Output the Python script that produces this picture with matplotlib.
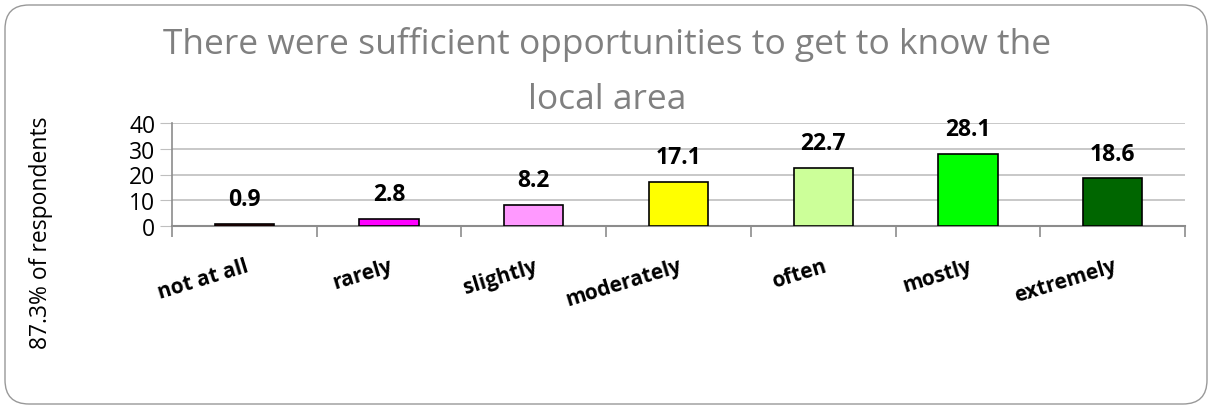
import matplotlib
matplotlib.use("Agg")
import matplotlib.pyplot as plt
from matplotlib.patches import FancyBboxPatch

categories = ["not at all", "rarely", "slightly", "moderately", "often", "mostly", "extremely"]
values = [0.9, 2.8, 8.2, 17.1, 22.7, 28.1, 18.6]
colors = ["#800000", "#FF00FF", "#FF99FF", "#FFFF00", "#CCFF99", "#00FF00", "#006600"]
yticks = [0, 10, 20, 30, 40]
title_lines = ["There were sufficient opportunities to get to know the", "local area"]
ylabel = "87.3% of respondents"

W, H = 1208, 406
fig = plt.figure(figsize=(W / 100, H / 100), dpi=100)
plt.rcParams['font.family'] = ['Open Sans', 'DejaVu Sans']

# background axes in pixel coordinates for the rounded border
bg = fig.add_axes([0, 0, 1, 1])
bg.set_xlim(0, W)
bg.set_ylim(H, 0)
bg.axis("off")
bg.add_patch(FancyBboxPatch((5, 6), W - 6, H - 7,
                            boxstyle="round,pad=0,rounding_size=24",
                            fill=False, edgecolor="#999999", linewidth=1.0))

ax_left, ax_right = 172, 1185
ax_top, ax_bot = 124, 227
ax = fig.add_axes([ax_left / W, 1 - ax_bot / H, (ax_right - ax_left) / W, (ax_bot - ax_top) / H])

x = list(range(len(categories)))
ax.bar(x, values, width=0.41, color=colors, edgecolor="black", linewidth=1.2, zorder=3)
ax.set_xlim(-0.5, len(categories) - 0.5)
ax.set_ylim(0, 40)
ax.set_yticks(yticks)
ax.set_yticklabels([str(t) for t in yticks], fontsize=16.5)
ax.yaxis.grid(True, color="#BFBFBF", linewidth=1.2, zorder=0)
ax.tick_params(axis='y', length=9, color="#BFBFBF", pad=3)
ax.set_xticks([i - 0.5 for i in range(len(categories) + 1)])
ax.set_xticklabels([])
ax.tick_params(axis='x', length=8, color="#8c8c8c", width=1.2)
for s in ["top", "right"]:
    ax.spines[s].set_visible(False)
ax.spines["left"].set_color("#8c8c8c")
ax.spines["bottom"].set_color("#8c8c8c")
ax.spines["left"].set_linewidth(1.2)
ax.spines["bottom"].set_linewidth(1.5)

for i, v in enumerate(values):
    ax.annotate(f"{v}", (i, v), xytext=(0, 9), textcoords="offset points",
                ha="center", va="bottom", fontsize=16.5, fontweight="bold")

for i, c in enumerate(categories):
    ax.annotate(c, (i, 0), xytext=(0, -21), textcoords="offset points",
                ha="right", va="top", rotation=17, rotation_mode="anchor",
                fontsize=15, fontweight="bold")

fig.text(607 / W, 1 - 45 / H, title_lines[0], ha="center", va="center", fontsize=25.5,
         color="#808080")
fig.text(607 / W, 1 - 100 / H, title_lines[1], ha="center", va="center", fontsize=25.5,
         color="#808080")
fig.text(41 / W, 1 - 233 / H, ylabel, rotation=90, ha="center", va="center", fontsize=16.5)

fig.savefig("out.png", dpi=100)
